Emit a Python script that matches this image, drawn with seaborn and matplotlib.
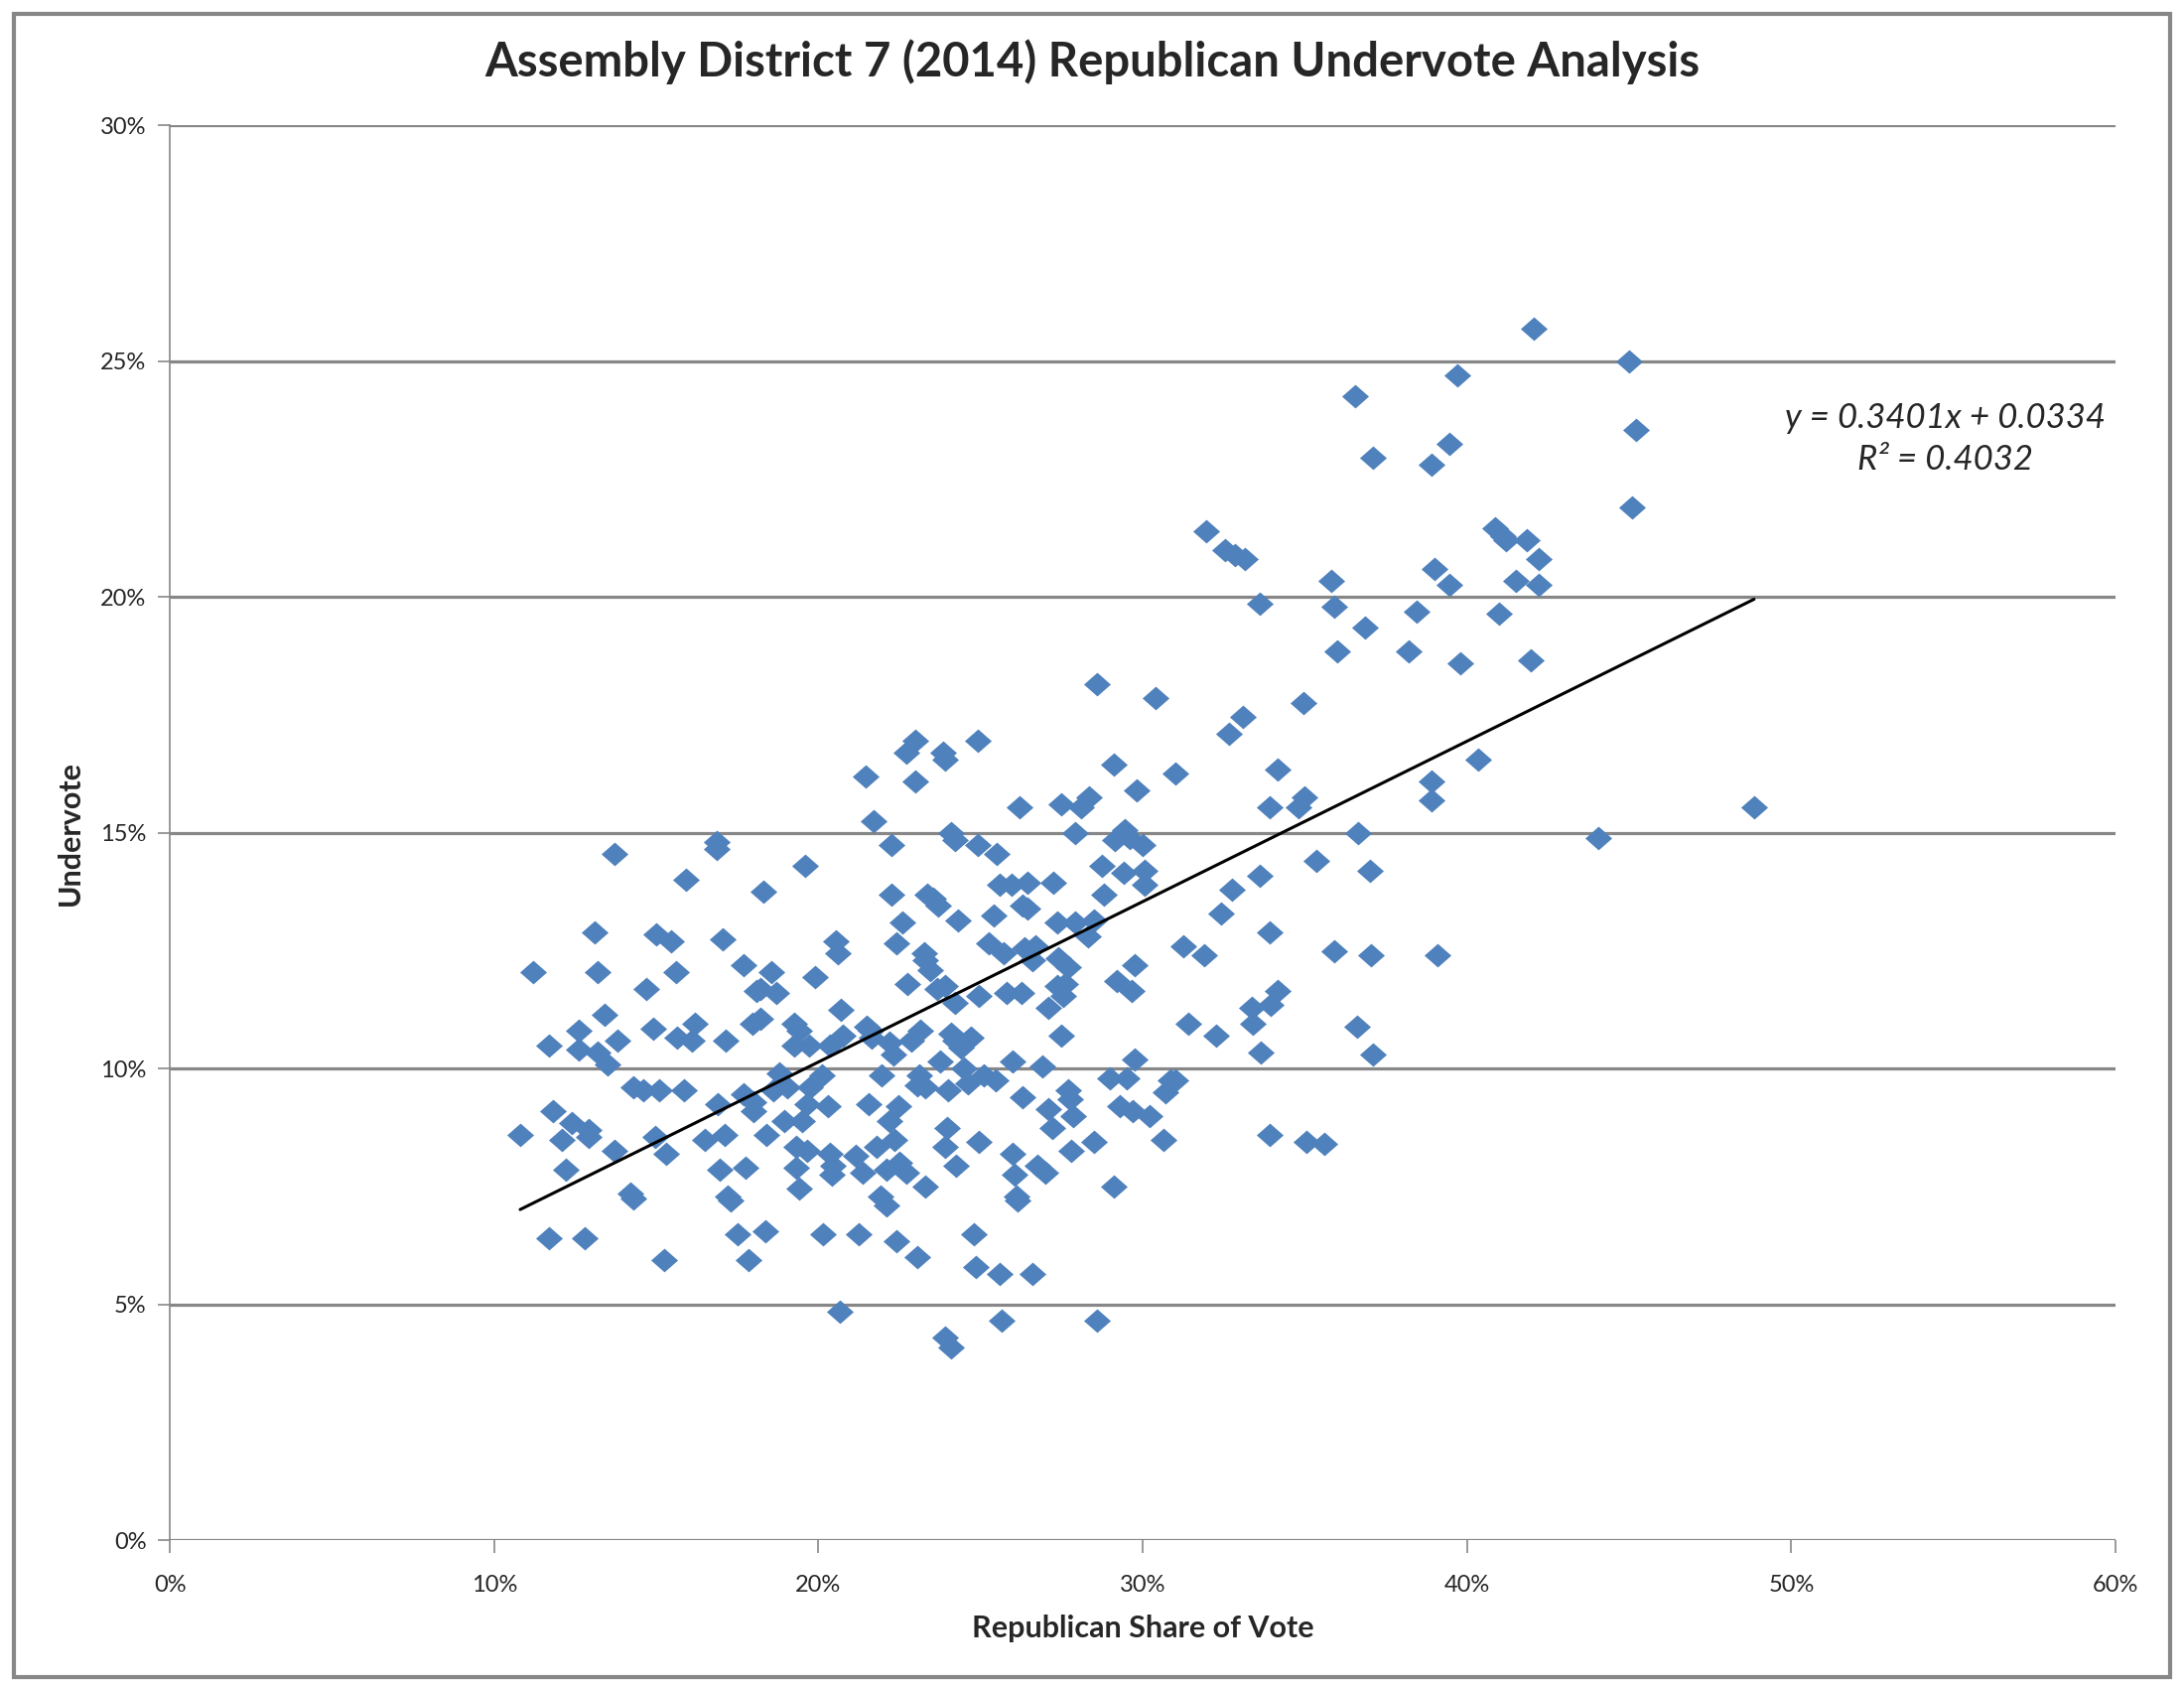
import numpy as np
import matplotlib
matplotlib.use("Agg")
import matplotlib.pyplot as plt
from matplotlib.patches import Rectangle
from matplotlib.ticker import PercentFormatter, MultipleLocator
import seaborn as sns

# Republican share of vote (%) and undervote (%) per election district
rep_share = [
    10.8, 11.2, 11.7, 11.8, 11.7, 12.1, 12.2, 12.4, 12.6, 12.6,
    12.8, 12.9, 12.9, 13.1, 13.2, 13.2, 13.4, 13.5, 13.7, 13.7,
    13.8, 14.2, 14.3, 14.3, 14.6, 14.7, 14.9, 14.95, 15.0, 15.1,
    15.25, 15.3, 15.45, 15.6, 15.65, 15.85, 15.9, 16.1, 16.2, 16.5,
    16.85, 16.85, 16.9, 16.95, 17.05, 17.1, 17.15, 17.2, 17.3, 17.5,
    17.7, 17.7, 17.75, 17.85, 18.0, 18.0, 17.95, 18.1, 18.2, 18.2,
    18.3, 18.35, 18.4, 18.55, 18.6, 18.7, 18.8, 18.95, 19.05, 19.25,
    19.25, 19.3, 19.3, 19.4, 19.4, 19.5, 19.6, 19.65, 19.65, 19.7,
    19.75, 19.9, 20.1, 20.15, 20.3, 20.35, 20.4, 20.35, 20.45, 20.55,
    20.6, 20.65, 20.7, 20.75, 21.15, 21.25, 21.35, 21.45, 21.5, 21.55,
    21.6, 21.65, 21.7, 21.8, 21.9, 21.95, 22.1, 22.1, 22.2, 22.2,
    22.25, 22.25, 22.3, 22.35, 22.4, 22.4, 22.45, 22.5, 22.6, 22.7,
    22.7, 22.75, 22.85, 23.0, 23.0, 23.05, 23.05, 23.1, 23.15, 23.25,
    23.3, 23.3, 23.35, 23.3, 23.45, 23.55, 23.65, 23.7, 23.75, 23.85,
    23.9, 23.9, 23.9, 23.9, 23.95, 24.0, 24.1, 24.1, 24.1, 24.2,
    24.2, 24.2, 24.25, 24.3, 24.4, 24.5, 24.6, 24.7, 24.8, 24.85,
    24.9, 24.9, 24.95, 24.95, 25.1, 25.25, 25.4, 25.45, 25.5, 25.6,
    25.65, 25.6, 25.7, 25.8, 25.95, 26.0, 26.0, 26.05, 26.1, 26.15,
    26.2, 26.25, 26.3, 26.3, 26.35, 26.45, 26.45, 26.6, 26.6, 26.7,
    26.75, 26.9, 27.0, 27.1, 27.1, 27.2, 27.25, 27.35, 27.35, 27.4,
    27.5, 27.5, 27.55, 27.6, 27.7, 27.7, 27.75, 27.8, 27.85, 27.9,
    27.9, 28.1, 28.3, 28.35, 28.5, 28.5, 28.6, 28.6, 28.75, 28.8,
    29.0, 29.1, 29.1, 29.15, 29.2, 29.3, 29.4, 29.45, 29.5, 29.6,
    29.65, 29.7, 29.75, 29.75, 29.8, 30.0, 30.05, 30.05, 30.2, 30.4,
    30.65, 30.7, 30.85, 31.0, 31.0, 31.25, 31.4, 31.9, 31.95, 32.4,
    32.25, 32.55, 32.65, 32.75, 32.85, 33.1, 33.15, 33.35, 33.4, 33.6,
    33.6, 33.65, 33.9, 33.9, 33.9, 33.95, 34.15, 34.15, 34.8, 34.95,
    35.0, 35.05, 35.35, 35.6, 35.8, 35.9, 35.9, 36.0, 36.55, 36.6,
    36.65, 36.85, 37.0, 37.05, 37.1, 37.1, 38.2, 38.45, 38.9, 38.9,
    38.9, 39.0, 39.1, 39.45, 39.45, 39.7, 39.8, 40.35, 40.85, 41.0,
    41.1, 41.2, 41.5, 41.85, 41.95, 42.05, 42.2, 42.2, 44.05, 45.0,
    45.1, 45.2, 48.85,
]
undervote = [
    8.6, 12.05, 10.5, 9.1, 6.4, 8.5, 7.85, 8.85, 10.8, 10.4,
    6.4, 8.7, 8.55, 12.9, 10.35, 12.05, 11.15, 10.1, 14.55, 8.25,
    10.6, 7.35, 9.6, 7.25, 9.55, 11.7, 10.85, 8.55, 12.85, 9.55,
    5.95, 8.2, 12.7, 12.05, 10.65, 9.55, 14.0, 10.6, 10.95, 8.5,
    14.8, 14.65, 9.25, 7.85, 12.75, 8.6, 10.6, 7.3, 7.2, 6.5,
    12.2, 9.45, 7.9, 5.95, 9.3, 9.1, 10.95, 11.65, 11.05, 11.7,
    13.75, 6.55, 8.6, 12.05, 9.55, 11.6, 9.9, 8.9, 9.6, 10.95,
    10.5, 8.35, 7.9, 7.45, 10.8, 8.9, 14.3, 9.25, 8.25, 10.5,
    9.6, 11.95, 9.85, 6.5, 9.2, 8.2, 7.75, 10.5, 7.95, 12.7,
    12.45, 4.85, 11.25, 10.7, 8.15, 6.5, 7.8, 16.2, 10.9, 9.25,
    10.8, 10.65, 15.25, 8.35, 7.3, 9.85, 7.1, 7.85, 8.9, 10.55,
    14.75, 13.7, 10.3, 8.5, 12.65, 6.35, 9.2, 8.0, 13.1, 16.7,
    7.8, 11.8, 10.6, 16.95, 16.1, 6.0, 9.65, 9.85, 10.8, 12.45,
    7.5, 12.3, 13.7, 9.6, 12.1, 13.6, 11.7, 13.45, 10.15, 16.7,
    16.55, 11.75, 4.3, 8.35, 8.75, 9.55, 4.1, 15.0, 10.75, 14.85,
    11.4, 10.6, 7.95, 13.15, 10.45, 10.0, 9.7, 10.65, 6.5, 5.8,
    16.95, 14.75, 11.55, 8.45, 9.85, 12.65, 13.25, 9.75, 14.55, 13.9,
    4.65, 5.65, 12.45, 11.6, 13.9, 10.15, 8.2, 7.75, 7.3, 7.2,
    15.55, 11.6, 9.4, 13.45, 12.55, 13.95, 13.4, 5.65, 12.3, 12.6,
    7.95, 10.05, 7.8, 11.3, 9.15, 8.75, 13.95, 13.1, 11.75, 12.35,
    10.7, 15.6, 11.55, 11.8, 12.15, 9.55, 9.35, 8.25, 9.0, 15.0,
    13.1, 15.55, 12.8, 15.75, 8.45, 13.15, 18.15, 4.65, 14.3, 13.7,
    9.8, 16.45, 7.5, 14.85, 11.85, 9.2, 14.15, 15.05, 9.8, 14.9,
    11.65, 9.1, 10.2, 12.2, 15.9, 14.75, 14.2, 13.9, 9.0, 17.85,
    8.5, 9.5, 9.75, 9.75, 16.25, 12.6, 10.95, 12.4, 21.4, 13.3,
    10.7, 21.0, 17.1, 13.8, 20.9, 17.45, 20.8, 11.3, 10.95, 19.85,
    14.1, 10.35, 15.55, 12.9, 8.6, 11.35, 11.65, 16.35, 15.55, 17.75,
    15.75, 8.45, 14.4, 8.4, 20.35, 19.8, 12.5, 18.85, 24.25, 10.9,
    15.0, 19.35, 14.2, 12.4, 22.95, 10.3, 18.85, 19.7, 22.8, 16.1,
    15.7, 20.6, 12.4, 23.25, 20.25, 24.7, 18.6, 16.55, 21.45, 19.65,
    21.3, 21.2, 20.35, 21.2, 18.65, 25.7, 20.8, 20.25, 14.9, 25.0,
    21.9, 23.55, 15.55,
]

# linear trendline as reported on the chart (fractions)
slope = 0.3401
intercept = 0.0334
r_squared = 0.4032

title = "Assembly District 7 (2014) Republican Undervote Analysis"
x_label = "Republican Share of Vote"
y_label = "Undervote"

sns.set_style("white")
plt.rcParams["font.family"] = ["Lato", "DejaVu Sans"]

fig = plt.figure(figsize=(22, 17), dpi=100)
ax = fig.add_axes([0.0778, 0.0875, 0.8909, 0.8382])

# Excel-like diamond, a touch wider than tall
diamond = [(-1, 0), (0, 0.88), (1, 0), (0, -0.88), (-1, 0)]
sns.scatterplot(x=rep_share, y=undervote, ax=ax, marker=diamond, s=380,
                color="#4F81BD", linewidth=0, zorder=3)

# trendline over the range of the data
xs = np.array([min(rep_share), max(rep_share)])
ys = (slope * xs / 100 + intercept) * 100
ax.plot(xs, ys, color="black", linewidth=2.2, zorder=4)

ax.text(54.75, 23.35, f"y = {slope:.4f}x + {intercept:.4f}\nR² = {r_squared:.4f}",
        ha="center", va="center", fontsize=25, style="italic", linespacing=1.4)

ax.set_xlim(0, 60)
ax.set_ylim(0, 30)
ax.xaxis.set_major_locator(MultipleLocator(10))
ax.yaxis.set_major_locator(MultipleLocator(5))
ax.xaxis.set_major_formatter(PercentFormatter(decimals=0))
ax.yaxis.set_major_formatter(PercentFormatter(decimals=0))

ax.grid(axis="y", color="#878787", linewidth=2.3)
ax.set_axisbelow(True)
for side in ["top", "right", "bottom"]:
    ax.spines[side].set_visible(False)
ax.spines["left"].set_color("#878787")
ax.spines["left"].set_linewidth(1.2)
ax.tick_params(axis="both", direction="out", length=9, width=1.2, color="#878787",
               labelsize=17, pad=8)
ax.tick_params(axis="x", bottom=True, pad=16)
ax.tick_params(axis="y", left=True)

ax.set_xlabel(x_label, fontsize=22, fontweight="bold", labelpad=14)
ax.set_ylabel(y_label, fontsize=22, fontweight="bold", labelpad=12)
fig.suptitle(title, fontsize=34, fontweight="bold", y=0.977)

# outer chart border
fig.patches.append(Rectangle((0.0065, 0.0066), 0.987, 0.985, transform=fig.transFigure,
                             fill=False, edgecolor="#878787", linewidth=3))

fig.savefig("out.png", dpi=100, facecolor="white")
